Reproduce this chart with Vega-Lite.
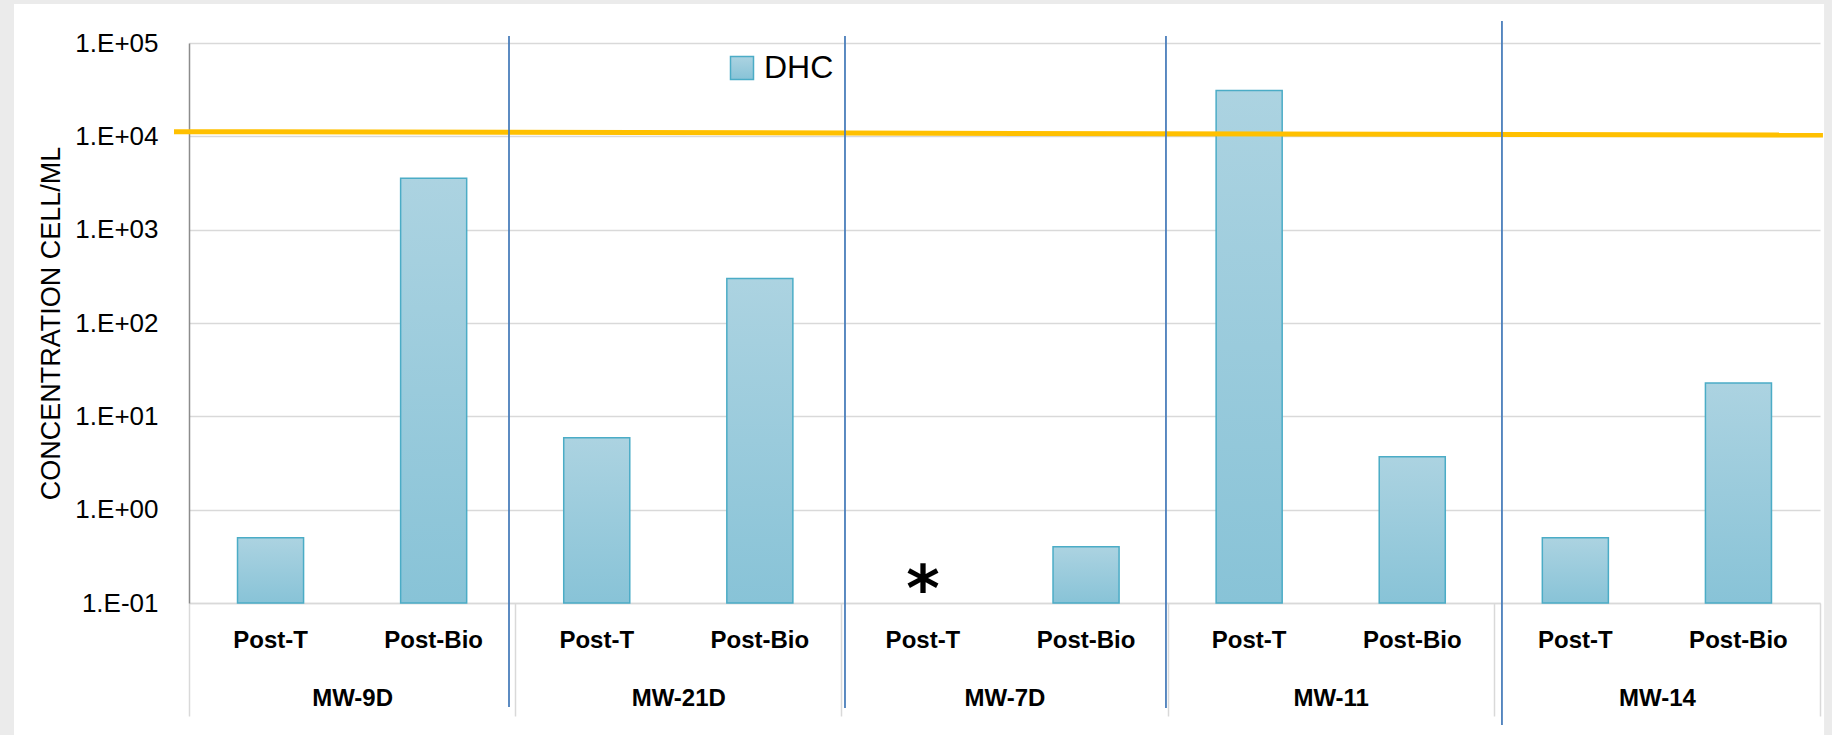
{
  "$schema": "https://vega.github.io/schema/vega-lite/v6.json",
  "width": 1631,
  "height": 560,
  "autosize": {"type": "none"},
  "padding": {"left": 189, "top": 43, "right": 12, "bottom": 132},
  "background": "white",
  "config": {"font": "Liberation Sans", "view": {"stroke": null}},
  "datasets": {
    "dhc": [
      {"well": "MW-9D", "stage": "Post-T", "value": 0.5, "series": "DHC", "note": ""},
      {"well": "MW-9D", "stage": "Post-Bio", "value": 3550, "series": "DHC", "note": ""},
      {"well": "MW-21D", "stage": "Post-T", "value": 5.9, "series": "DHC", "note": ""},
      {"well": "MW-21D", "stage": "Post-Bio", "value": 300, "series": "DHC", "note": ""},
      {"well": "MW-7D", "stage": "Post-T", "value": null, "series": "DHC", "note": "*"},
      {"well": "MW-7D", "stage": "Post-Bio", "value": 0.4, "series": "DHC", "note": ""},
      {"well": "MW-11", "stage": "Post-T", "value": 31000, "series": "DHC", "note": ""},
      {"well": "MW-11", "stage": "Post-Bio", "value": 3.7, "series": "DHC", "note": ""},
      {"well": "MW-14", "stage": "Post-T", "value": 0.5, "series": "DHC", "note": ""},
      {"well": "MW-14", "stage": "Post-Bio", "value": 22.8, "series": "DHC", "note": ""}
    ],
    "frame": [
      {"x1": -0.2, "x2": -0.1073, "y1": 10000000, "y2": 0.0001},
      {"x1": -0.2, "x2": 1.1, "y1": 10000000, "y2": 262000},
      {"x1": 1.0025, "x2": 1.1, "y1": 10000000, "y2": 0.0001}
    ],
    "target": [
      {"x1": -0.0092, "x2": 1.0018, "y1": 11220, "y2": 10330}
    ],
    "dividers": [
      {"x": 0.1962, "top": 118900, "bottom": 0.00769},
      {"x": 0.4022, "top": 118900, "bottom": 0.0075},
      {"x": 0.599, "top": 118900, "bottom": 0.0075},
      {"x": 0.805, "top": 172000, "bottom": 0.00493}
    ]
  },
  "resolve": {"scale": {"x": "independent"}},
  "layer": [
    {
      "data": {"name": "frame"},
      "mark": {"type": "rect", "color": "#ebebeb"},
      "encoding": {
        "x": {"field": "x1", "type": "quantitative", "scale": {"domain": [0, 1], "nice": false, "zero": false}, "axis": null},
        "x2": {"field": "x2"},
        "y": {"field": "y1", "type": "quantitative", "title": "CONCENTRATION CELL/ML"},
        "y2": {"field": "y2"}
      }
    },
    {
      "data": {"name": "dhc"},
      "layer": [
        {
          "mark": {
            "type": "bar",
            "fill": {
              "gradient": "linear", "x1": 0, "y1": 0, "x2": 0, "y2": 1,
              "stops": [{"offset": 0, "color": "#acd3e1"}, {"offset": 1, "color": "#88c3d7"}]
            },
            "strokeWidth": 1.5
          },
          "encoding": {
            "x": {
              "field": "well", "type": "nominal",
              "scale": {"domain": ["MW-9D", "MW-21D", "MW-7D", "MW-11", "MW-14"], "paddingInner": 0, "paddingOuter": 0},
              "axis": {
                "orient": "bottom", "title": null, "tickBand": "extent", "ticks": true, "tickSize": 113,
                "tickColor": "#d9d9d9", "tickWidth": 1.5, "domain": true, "domainColor": "#d9d9d9", "domainWidth": 1.5,
                "labelFontSize": 24, "labelFontWeight": "bold", "labelColor": "black", "labelBaseline": "middle",
                "labelPadding": -18, "labelAngle": 0, "grid": false
              }
            },
            "xOffset": {
              "field": "stage", "type": "nominal",
              "scale": {"domain": ["Post-T", "Post-Bio"], "paddingInner": 0.595, "paddingOuter": 0.2975}
            },
            "y": {
              "field": "value", "type": "quantitative",
              "scale": {"type": "log", "domain": [0.1, 100000], "nice": false},
              "title": "CONCENTRATION CELL/ML",
              "axis": {
                "values": [0.1, 1, 10, 100, 1000, 10000, 100000],
                "labelExpr": "'1.E' + (datum.value >= 1 ? '+' : '-') + '0' + abs(round(log(datum.value) / LN10))",
                "ticks": false, "labelPadding": 31, "labelFontSize": 26, "labelColor": "black",
                "grid": true, "gridColor": "#d9d9d9", "gridWidth": 1.5,
                "domain": true, "domainColor": "#8c8c8c", "domainWidth": 1.5,
                "titleFontSize": 27, "titleFontWeight": "normal", "titleColor": "black", "titlePadding": 9
              }
            },
            "y2": {"datum": 0.1},
            "stroke": {
              "field": "series", "type": "nominal",
              "scale": {"range": ["#4bacc6"]},
              "legend": {
                "orient": "none", "legendX": 537, "legendY": 9, "title": null, "padding": 0,
                "symbolType": "square", "symbolSize": 529, "symbolFillColor": "#a5cfde", "symbolStrokeWidth": 1.5,
                "labelFontSize": 32, "labelColor": "black", "labelOffset": 6
              }
            }
          }
        },
        {
          "mark": {"type": "text", "fontSize": 24, "fontWeight": "bold", "baseline": "middle", "dy": 38, "color": "black"},
          "encoding": {
            "x": {"field": "well", "type": "nominal"},
            "xOffset": {"field": "stage", "type": "nominal"},
            "y": {"datum": 0.1, "title": "CONCENTRATION CELL/ML"},
            "text": {"field": "stage"}
          }
        },
        {
          "transform": [{"filter": "datum.note != null && datum.note != ''"}],
          "mark": {"type": "text", "font": "DejaVu Sans", "fontSize": 64, "fontWeight": "bold", "baseline": "middle", "dy": -11, "color": "black"},
          "encoding": {
            "x": {"field": "well", "type": "nominal"},
            "xOffset": {"field": "stage", "type": "nominal"},
            "y": {"datum": 0.1, "title": "CONCENTRATION CELL/ML"},
            "text": {"field": "note"}
          }
        }
      ]
    },
    {
      "data": {"name": "target"},
      "mark": {"type": "rule", "color": "#ffc000", "strokeWidth": 5},
      "encoding": {
        "x": {"field": "x1", "type": "quantitative", "scale": {"domain": [0, 1], "nice": false, "zero": false}, "axis": null},
        "x2": {"field": "x2"},
        "y": {"field": "y1", "type": "quantitative", "title": "CONCENTRATION CELL/ML"},
        "y2": {"field": "y2"}
      }
    },
    {
      "data": {"name": "dividers"},
      "mark": {"type": "rule", "color": "#4a7ebb", "strokeWidth": 1.8},
      "encoding": {
        "x": {"field": "x", "type": "quantitative", "scale": {"domain": [0, 1], "nice": false, "zero": false}, "axis": null},
        "y": {"field": "top", "type": "quantitative", "title": "CONCENTRATION CELL/ML"},
        "y2": {"field": "bottom"}
      }
    }
  ]
}
